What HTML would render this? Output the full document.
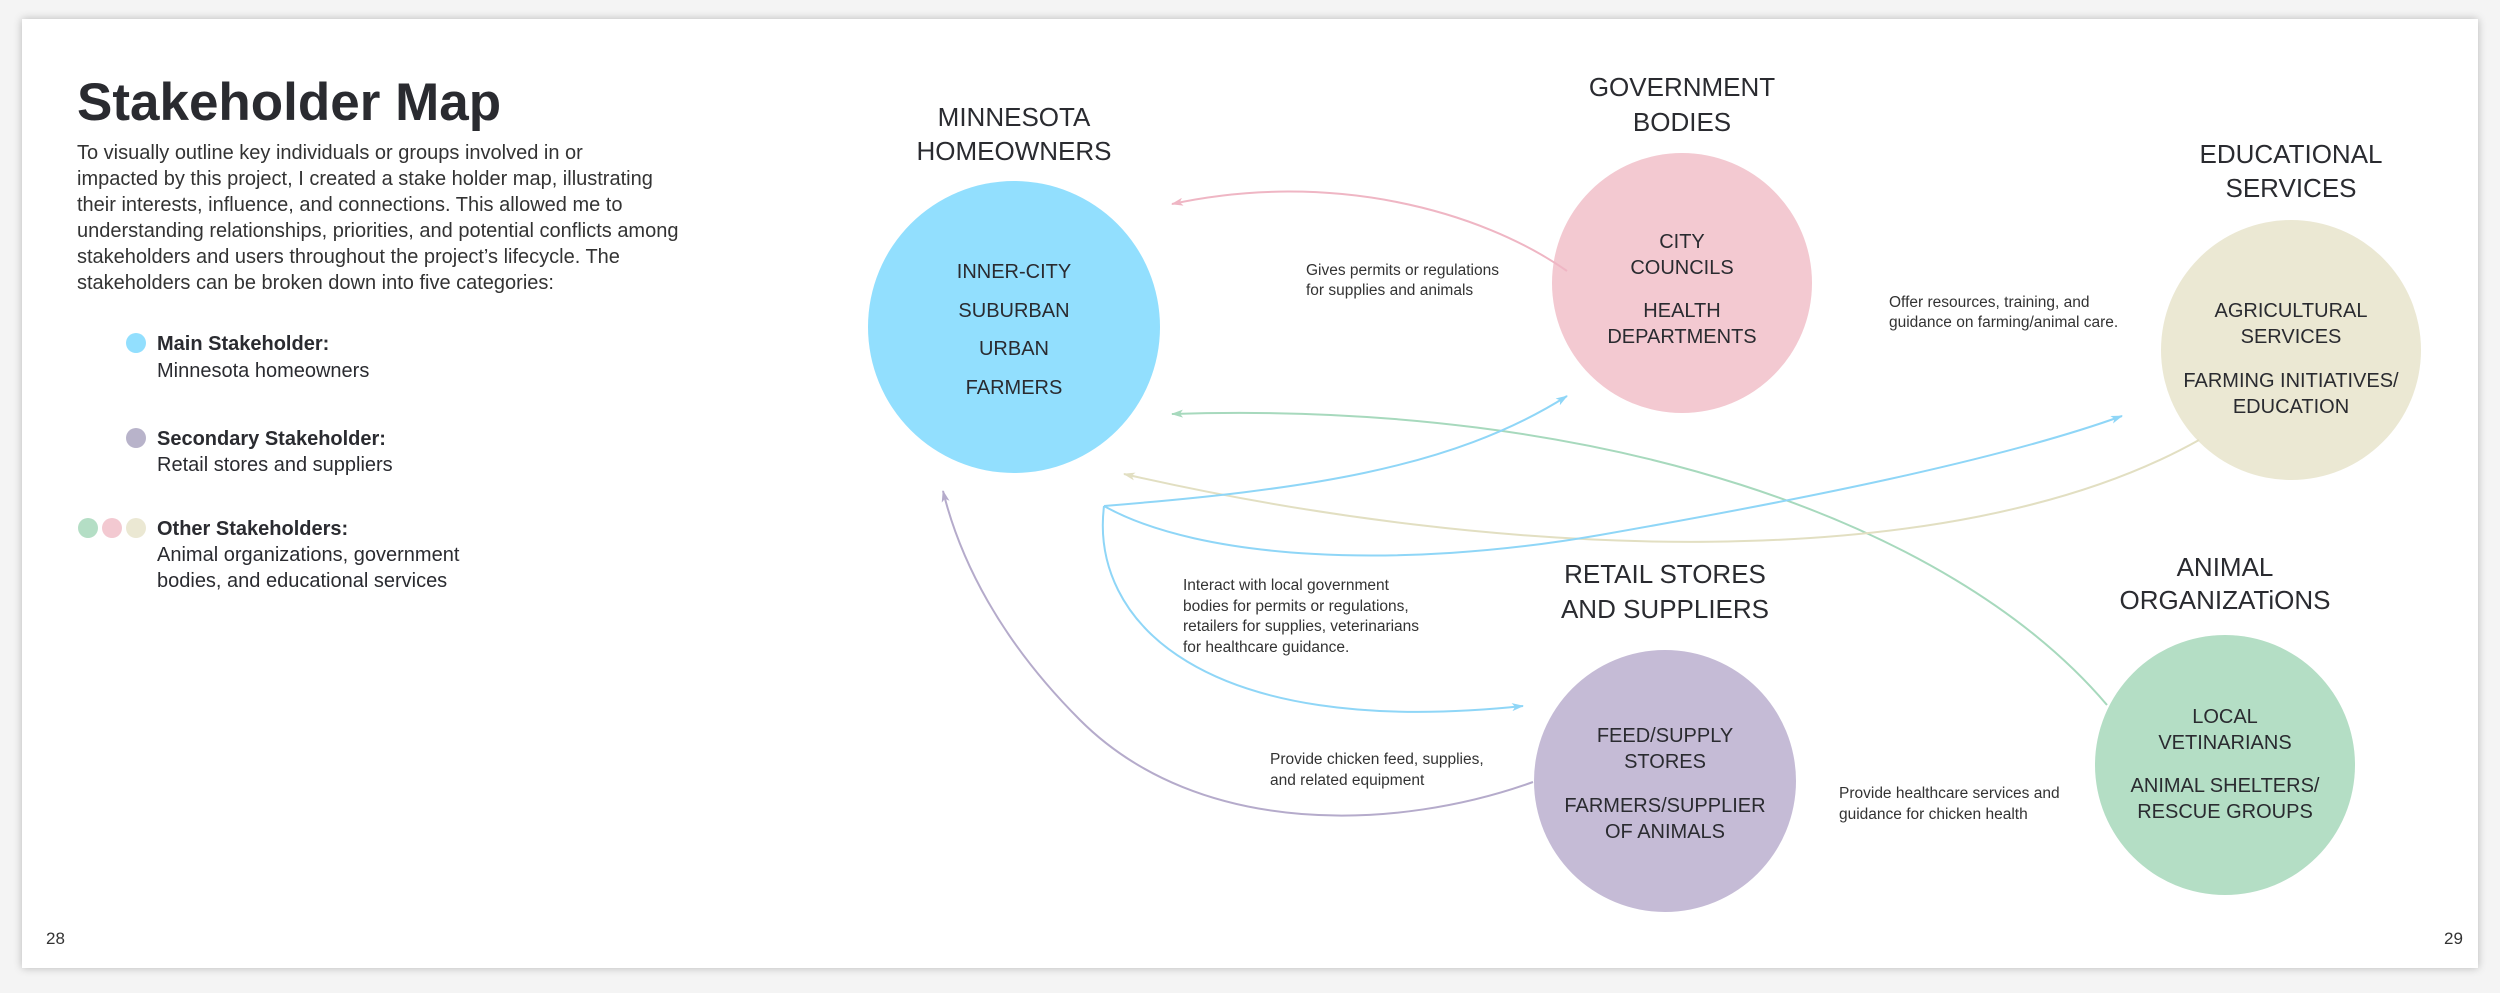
<!DOCTYPE html>
<html><head><meta charset="utf-8"><style>
html,body{margin:0;padding:0;background:#f4f4f4;}
body{width:2500px;height:993px;position:relative;overflow:hidden;font-family:"Liberation Sans",sans-serif;}
.page{position:absolute;left:22px;top:19px;width:2456px;height:949px;background:#fff;box-shadow:0 0 8px rgba(0,0,0,0.25);}
svg{position:absolute;left:0;top:0;}
</style></head><body>
<div class="page"></div>
<svg width="2500" height="993" viewBox="0 0 2500 993" xmlns="http://www.w3.org/2000/svg" font-family="Liberation Sans, sans-serif">
<defs>
<marker id="ab" markerWidth="12" markerHeight="8" refX="11" refY="4" orient="auto" markerUnits="userSpaceOnUse"><path d="M0,0 L12,4 L0,8 L3,4 Z" fill="#8fd6f7"/></marker>
<marker id="ap" markerWidth="12" markerHeight="8" refX="11" refY="4" orient="auto" markerUnits="userSpaceOnUse"><path d="M0,0 L12,4 L0,8 L3,4 Z" fill="#efb6c4"/></marker>
<marker id="ag" markerWidth="12" markerHeight="8" refX="11" refY="4" orient="auto" markerUnits="userSpaceOnUse"><path d="M0,0 L12,4 L0,8 L3,4 Z" fill="#a7d9bd"/></marker>
<marker id="ay" markerWidth="12" markerHeight="8" refX="11" refY="4" orient="auto" markerUnits="userSpaceOnUse"><path d="M0,0 L12,4 L0,8 L3,4 Z" fill="#e2dfc2"/></marker>
<marker id="av" markerWidth="12" markerHeight="8" refX="11" refY="4" orient="auto" markerUnits="userSpaceOnUse"><path d="M0,0 L12,4 L0,8 L3,4 Z" fill="#b5abcb"/></marker>
</defs>

<!-- circles -->
<circle cx="1014" cy="327" r="146" fill="#92dffe"/>
<circle cx="1682" cy="283" r="130" fill="#f3c9d1"/>
<circle cx="2291" cy="350" r="130" fill="#ebe8d3"/>
<circle cx="1665" cy="781" r="131" fill="#c5bbd6"/>
<circle cx="2225" cy="765" r="130" fill="#b4dec5"/>

<!-- connectors -->
<g fill="none" stroke-width="2">
<path d="M1567,271 C1480,210 1330,170 1172,204" stroke="#efb6c4" marker-end="url(#ap)"/>
<path d="M2107,705 C1950,520 1600,400 1172,414" stroke="#a7d9bd" marker-end="url(#ag)"/>
<path d="M2199,440 C1950,580 1500,560 1124,474" stroke="#e2dfc2" marker-end="url(#ay)"/>
<path d="M1104,506 C1300,490 1450,470 1567,396" stroke="#8fd6f7" marker-end="url(#ab)"/>
<path d="M1104,506 C1200,560 1400,570 1600,535 C1800,500 2000,460 2122,416" stroke="#8fd6f7" marker-end="url(#ab)"/>
<path d="M1104,506 C1090,620 1200,740 1523,706" stroke="#8fd6f7" marker-end="url(#ab)"/>
<path d="M1533,782 C1400,830 1200,840 1080,720 C1000,640 960,560 943,491" stroke="#b5abcb" marker-end="url(#av)"/>
</g>

<!-- left text -->
<text x="77" y="120" font-size="53" font-weight="bold" fill="#2a2b30">Stakeholder Map</text>
<g font-size="20" fill="#333">
<text x="77" y="159">To visually outline key individuals or groups involved in or</text>
<text x="77" y="185">impacted by this project, I created a stake holder map, illustrating</text>
<text x="77" y="211">their interests, influence, and connections. This allowed me to</text>
<text x="77" y="237">understanding relationships, priorities, and potential conflicts among</text>
<text x="77" y="263">stakeholders and users throughout the project’s lifecycle. The</text>
<text x="77" y="289">stakeholders can be broken down into five categories:</text>
</g>
<circle cx="136" cy="343" r="10" fill="#92dffe"/>
<circle cx="136" cy="438" r="10" fill="#b8b3ca"/>
<circle cx="88" cy="528" r="10" fill="#b4dec5"/>
<circle cx="112" cy="528" r="10" fill="#f3c9d1"/>
<circle cx="136" cy="528" r="10" fill="#ebe8d3"/>
<g font-size="20" fill="#2a2b30">
<text x="157" y="350" font-weight="bold">Main Stakeholder:</text>
<text x="157" y="377">Minnesota homeowners</text>
<text x="157" y="445" font-weight="bold">Secondary Stakeholder:</text>
<text x="157" y="471">Retail stores and suppliers</text>
<text x="157" y="535" font-weight="bold">Other Stakeholders:</text>
<text x="157" y="561">Animal organizations, government</text>
<text x="157" y="587">bodies, and educational services</text>
</g>
<text x="46" y="944" font-size="17" fill="#333">28</text>
<text x="2444" y="944" font-size="17" fill="#333">29</text>

<!-- headers -->
<g font-size="26" fill="#2a2b30" text-anchor="middle">
<text x="1014" y="126">MINNESOTA</text>
<text x="1014" y="160">HOMEOWNERS</text>
<text x="1682" y="96">GOVERNMENT</text>
<text x="1682" y="131">BODIES</text>
<text x="2291" y="163">EDUCATIONAL</text>
<text x="2291" y="197">SERVICES</text>
<text x="1665" y="583">RETAIL STORES</text>
<text x="1665" y="618">AND SUPPLIERS</text>
<text x="2225" y="576">ANIMAL</text>
<text x="2225" y="609">ORGANIZATiONS</text>
</g>

<!-- inner -->
<g font-size="20" fill="#2a2b30" text-anchor="middle">
<text x="1014" y="278">INNER-CITY</text>
<text x="1014" y="317">SUBURBAN</text>
<text x="1014" y="355">URBAN</text>
<text x="1014" y="394">FARMERS</text>
<text x="1682" y="248">CITY</text>
<text x="1682" y="274">COUNCILS</text>
<text x="1682" y="317">HEALTH</text>
<text x="1682" y="343">DEPARTMENTS</text>
<text x="2291" y="317">AGRICULTURAL</text>
<text x="2291" y="343">SERVICES</text>
<text x="2291" y="387">FARMING INITIATIVES/</text>
<text x="2291" y="413">EDUCATION</text>
<text x="1665" y="742">FEED/SUPPLY</text>
<text x="1665" y="768">STORES</text>
<text x="1665" y="812">FARMERS/SUPPLIER</text>
<text x="1665" y="838">OF ANIMALS</text>
<text x="2225" y="723">LOCAL</text>
<text x="2225" y="749">VETINARIANS</text>
<text x="2225" y="792">ANIMAL SHELTERS/</text>
<text x="2225" y="818">RESCUE GROUPS</text>
</g>

<!-- labels -->
<g font-size="15.5" fill="#333">
<text x="1306" y="275">Gives permits or regulations</text>
<text x="1306" y="295">for supplies and animals</text>
<text x="1889" y="307">Offer resources, training, and</text>
<text x="1889" y="327">guidance on farming/animal care.</text>
<text x="1183" y="590">Interact with local government</text>
<text x="1183" y="611">bodies for permits or regulations,</text>
<text x="1183" y="631">retailers for supplies, veterinarians</text>
<text x="1183" y="652">for healthcare guidance.</text>
<text x="1270" y="764">Provide chicken feed, supplies,</text>
<text x="1270" y="785">and related equipment</text>
<text x="1839" y="798">Provide healthcare services and</text>
<text x="1839" y="819">guidance for chicken health</text>
</g>
</svg>
</body></html>
